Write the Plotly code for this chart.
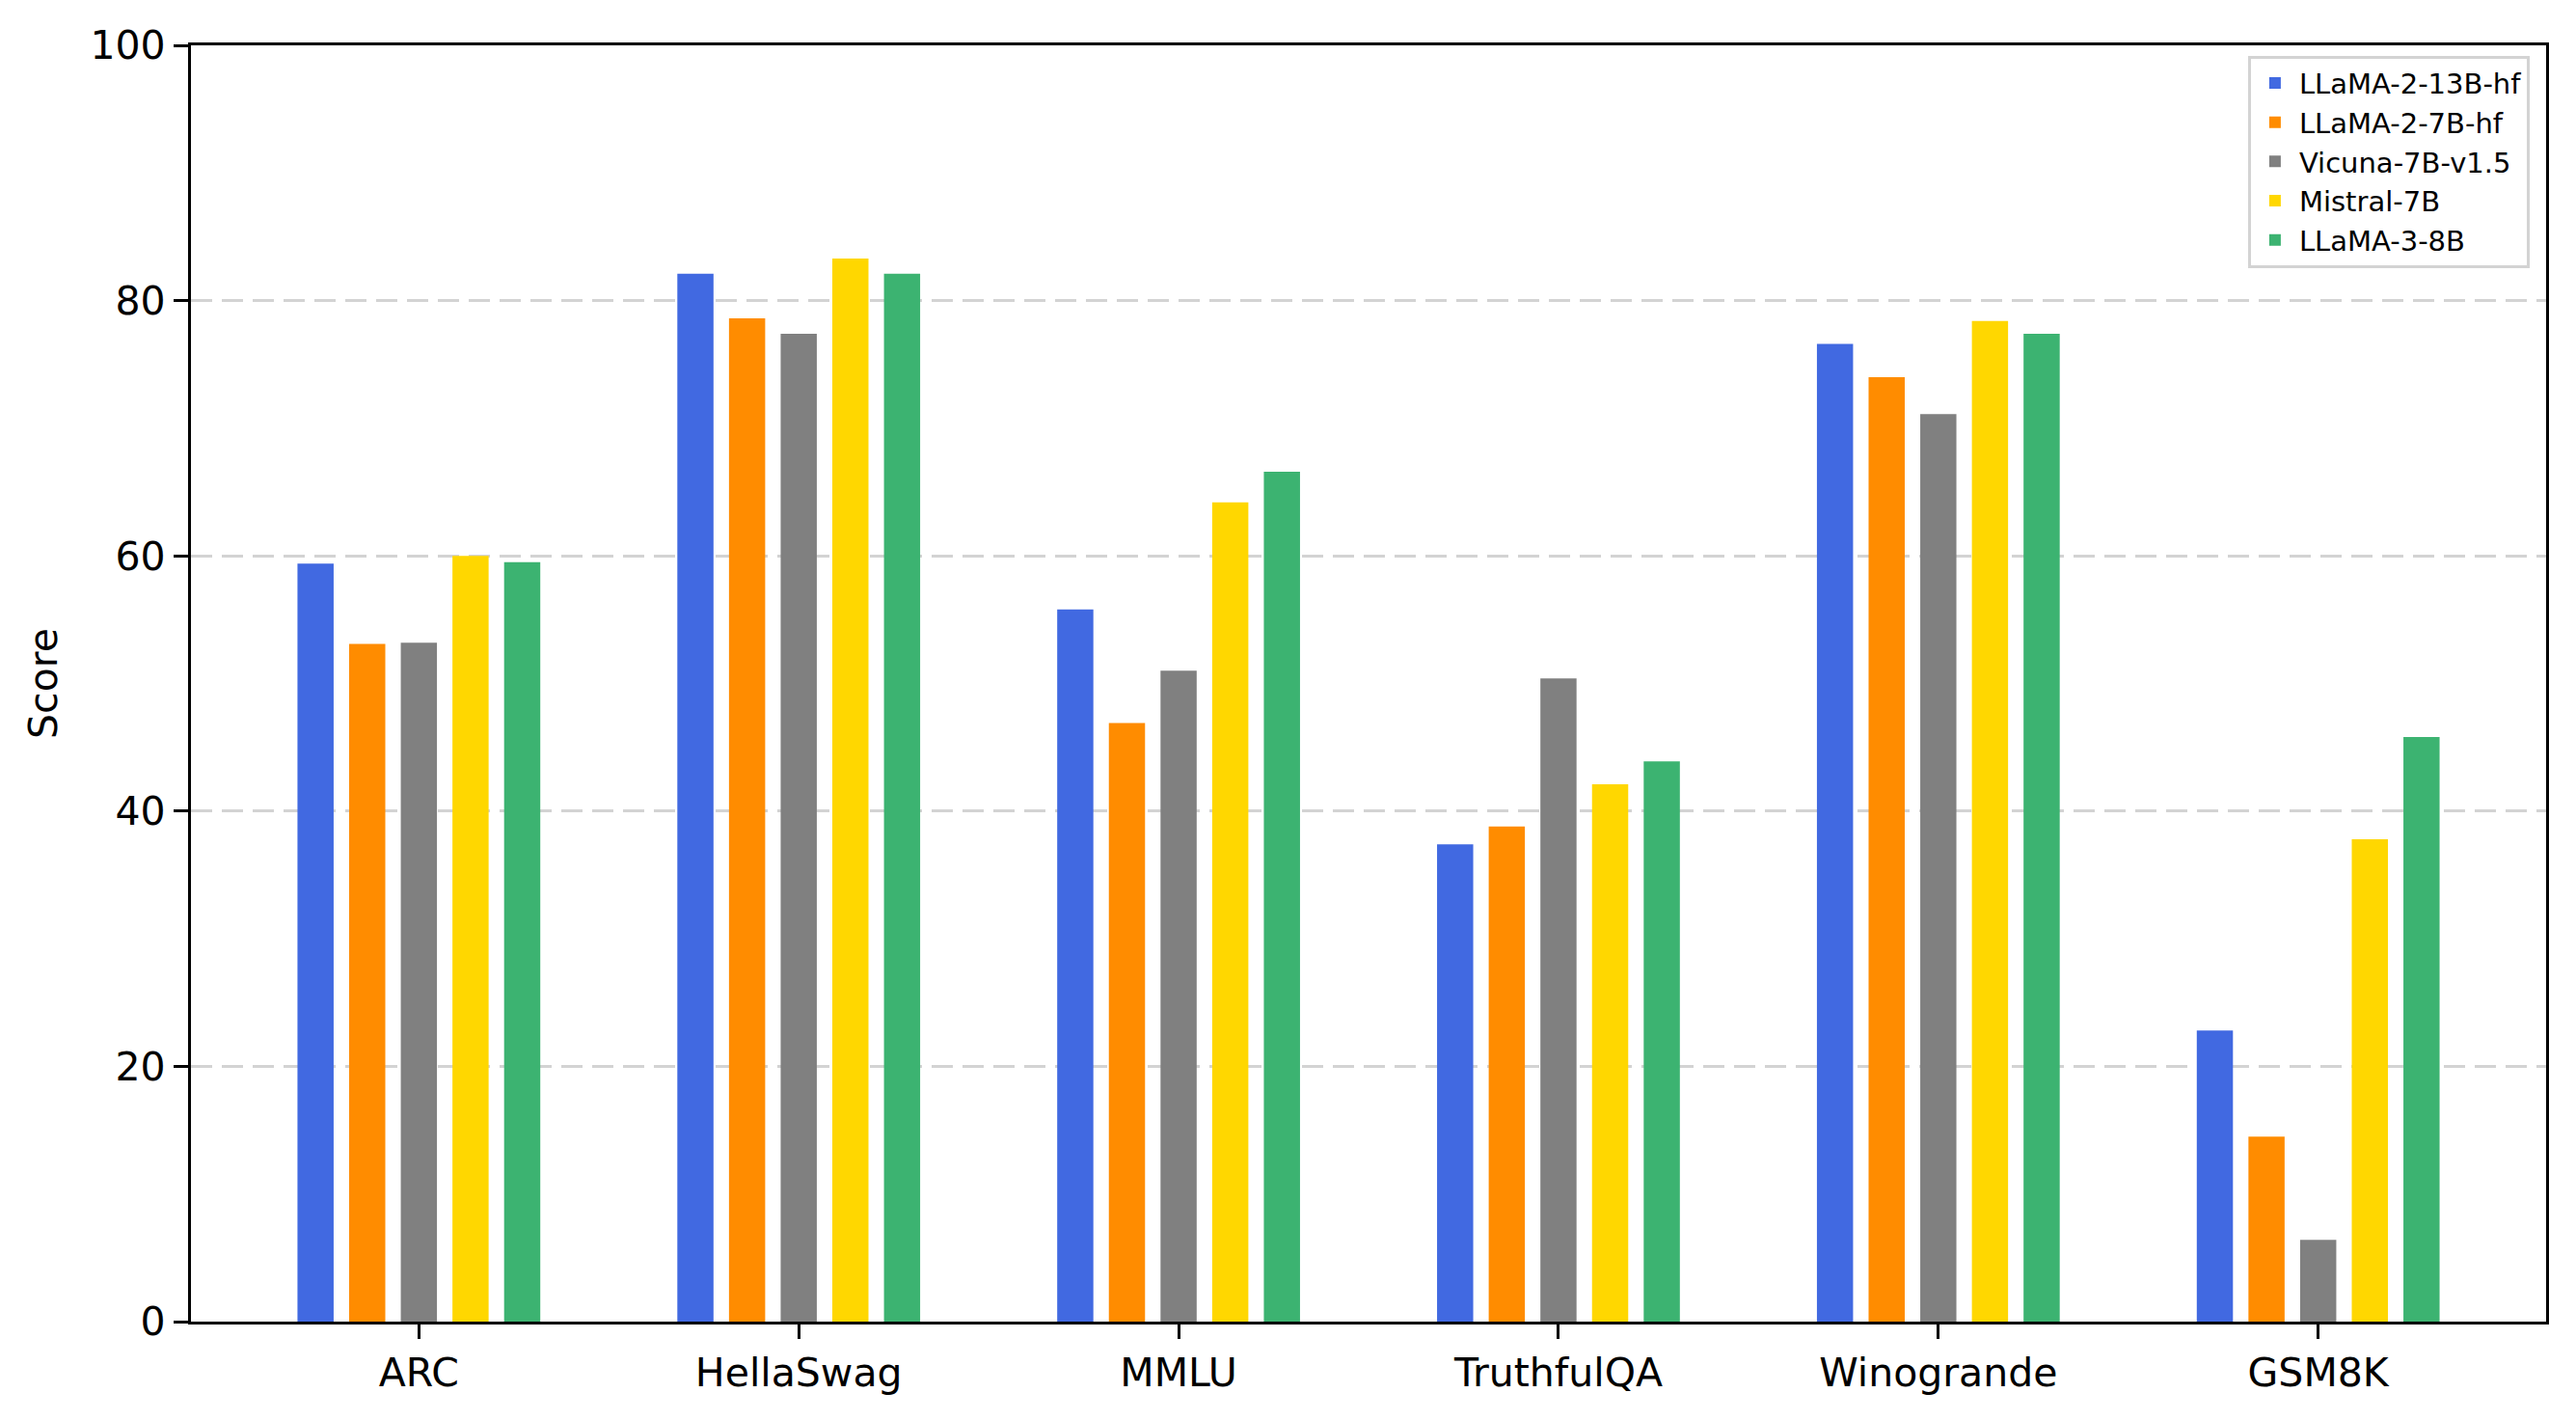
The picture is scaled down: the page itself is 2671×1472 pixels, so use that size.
import plotly.graph_objects as go

benchmarks = ["ARC", "HellaSwag", "MMLU", "TruthfulQA", "Winogrande", "GSM8K"]
models = ["LLaMA-2-13B-hf", "LLaMA-2-7B-hf", "Vicuna-7B-v1.5", "Mistral-7B", "LLaMA-3-8B"]
llama2_13b = [59.4, 82.1, 55.8, 37.4, 76.6, 22.8]
llama2_7b = [53.1, 78.6, 46.9, 38.8, 74.0, 14.5]
vicuna_7b = [53.2, 77.4, 51.0, 50.4, 71.1, 6.4]
mistral_7b = [60.0, 83.3, 64.2, 42.1, 78.4, 37.8]
llama3_8b = [59.5, 82.1, 66.6, 43.9, 77.4, 45.8]
series = [llama2_13b, llama2_7b, vicuna_7b, mistral_7b, llama3_8b]
colors = ["#4169E1", "#FF8C00", "#808080", "#FFD700", "#3CB371"]
y_ticks = [0, 20, 40, 60, 80, 100]

FONT = "DejaVu Sans"
# page body has an 8px default margin, so the figure is sized to fit inside the window
W, H = 2655, 1456
L, R, T, B = 190, 23, 39, 94

fig = go.Figure()
for name, vals, col in zip(models, series, colors):
    fig.add_trace(go.Bar(
        x=list(range(len(benchmarks))), y=vals, name=name, legendgroup=name,
        marker=dict(color=col, line=dict(width=0)),
    ))

fig.update_layout(
    width=W, height=H,
    margin=dict(l=L, r=R, t=T, b=B, autoexpand=False),
    paper_bgcolor="white", plot_bgcolor="white",
    barmode="group", bargap=0.32, bargroupgap=0.3,
    font=dict(family=FONT, size=41, color="black"),
    showlegend=True,
    legend=dict(
        x=0.993, y=0.992, xanchor="right", yanchor="top",
        bgcolor="white", bordercolor="#d3d3d3", borderwidth=3,
        font=dict(family=FONT, size=29, color="black"),
        itemwidth=40, tracegroupgap=3, traceorder="normal",
    ),
)

fig.update_xaxes(
    range=[-0.6, len(benchmarks) - 0.4], automargin=False,
    tickmode="array", tickvals=list(range(len(benchmarks))), ticktext=benchmarks,
    ticks="outside", ticklen=15, tickwidth=3.3, tickcolor="black",
    showline=True, linecolor="black", linewidth=3.3, mirror=True,
    showgrid=False, zeroline=False,
    tickfont=dict(family=FONT, size=41, color="black"),
)
fig.update_yaxes(
    range=[0, 100], automargin=False,
    tickmode="array", tickvals=y_ticks, ticktext=[str(v) for v in y_ticks],
    ticks="outside", ticklen=15, tickwidth=3.3, tickcolor="black",
    showline=True, linecolor="black", linewidth=3.3, mirror=True,
    showgrid=True, gridcolor="#d3d3d3", gridwidth=3, griddash="22px,10px",
    zeroline=False,
    tickfont=dict(family=FONT, size=41, color="black"),
    title=dict(text="Score", font=dict(family=FONT, size=41, color="black"), standoff=22),
)

fig.write_html("out.html")
